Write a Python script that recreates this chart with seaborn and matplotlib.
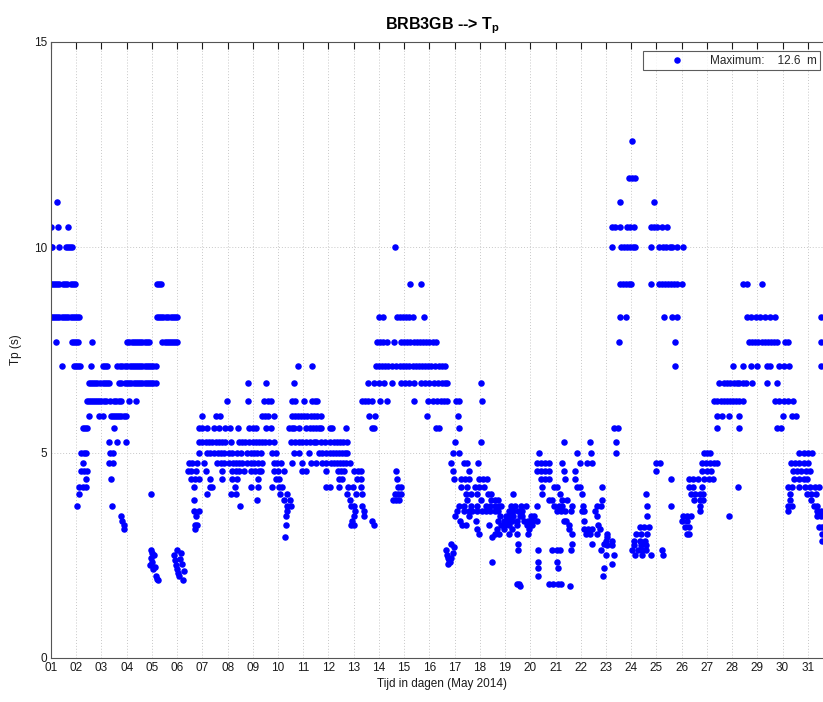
import pandas as pd
import seaborn as sns
import matplotlib.pyplot as plt

# Tp readings: (hours after 1 May 2014 00:00, Tp in s)
may01_06 = [
    (6, 11.1),
    (0, 10.5), (7, 10.5), (16, 10.5),
    (0, 10.0), (1, 10.0), (8, 10.0), (14, 10.0), (16, 10.0), (18, 10.0), (20, 10.0),
    (0, 9.1), (2, 9.1), (4, 9.1), (6, 9.1), (8, 9.1), (11, 9.1), (13, 9.1), (15, 9.1), (19, 9.1), (21, 9.1), (23, 9.1),
    (101, 9.1), (103, 9.1), (105, 9.1),
    (0, 8.3), (2, 8.3), (4, 8.3), (6, 8.3), (8, 8.3), (10, 8.3), (12, 8.3), (14, 8.3), (16, 8.3), (19, 8.3), (21, 8.3),
    (23, 8.3), (25, 8.3), (27, 8.3), (101, 8.3), (103, 8.3), (105, 8.3), (107, 8.3), (109, 8.3), (111, 8.3), (114, 8.3),
    (116, 8.3), (118, 8.3), (120, 8.3),
    (5, 7.7), (20, 7.7), (22, 7.7), (24, 7.7), (26, 7.7), (39, 7.7), (72, 7.7), (74, 7.7), (77, 7.7), (79, 7.7), (81, 7.7),
    (83, 7.7), (85, 7.7), (87, 7.7), (89, 7.7), (91, 7.7), (93, 7.7), (106, 7.7), (108, 7.7), (110, 7.7), (112, 7.7),
    (114, 7.7), (116, 7.7), (118, 7.7), (120, 7.7),
    (10, 7.1), (22, 7.1), (24, 7.1), (26, 7.1), (28, 7.1), (38, 7.1), (49, 7.1), (51, 7.1), (53, 7.1), (63, 7.1), (66, 7.1),
    (68, 7.1), (70, 7.1), (72, 7.1), (75, 7.1), (77, 7.1), (79, 7.1), (81, 7.1), (83, 7.1), (85, 7.1), (87, 7.1), (89, 7.1),
    (91, 7.1), (93, 7.1), (95, 7.1), (97, 7.1), (100, 7.1),
    (36, 6.7), (38, 6.7), (40, 6.7), (42, 6.7), (44, 6.7), (47, 6.7), (49, 6.7), (51, 6.7), (53, 6.7), (55, 6.7), (65, 6.7),
    (67, 6.7), (70, 6.7), (72, 6.7), (74, 6.7), (76, 6.7), (79, 6.7), (81, 6.7), (83, 6.7), (85, 6.7), (87, 6.7), (89, 6.7),
    (91, 6.7), (93, 6.7), (95, 6.7), (97, 6.7), (100, 6.7),
    (34, 6.25), (36, 6.25), (38, 6.25), (40, 6.25), (42, 6.25), (44, 6.25), (46, 6.25), (48, 6.25), (50, 6.25), (52, 6.25),
    (56, 6.25), (60, 6.25), (62, 6.25), (65, 6.25), (67, 6.25), (74, 6.25), (81, 6.25),
    (36, 5.9), (46, 5.9), (49, 5.9), (57, 5.9), (59, 5.9), (61, 5.9), (63, 5.9), (65, 5.9), (67, 5.9), (69, 5.9), (71, 5.9),
    (30, 5.6), (32, 5.6), (34, 5.6), (60, 5.6),
    (55, 5.26), (63, 5.26), (71, 5.26),
    (29, 5.0), (31, 5.0), (33, 5.0), (56, 5.0), (59, 5.0),
    (30, 4.76), (55, 4.76), (59, 4.76),
    (29, 4.55), (31, 4.55), (34, 4.55),
    (33, 4.35), (57, 4.35),
    (27, 4.17), (30, 4.17), (33, 4.17),
    (27, 4.0), (95, 4.0),
    (25, 3.7), (58, 3.7),
    (67, 3.45), (68, 3.33), (69, 3.23), (69, 3.13),
    (95, 2.63), (96, 2.56), (98, 2.5), (95, 2.44), (96, 2.33), (94, 2.27), (99, 2.22), (97, 2.17), (100, 2.0),
    (101, 1.92), (102, 1.9),
    (120, 2.63), (117, 2.5), (124, 2.56), (123, 2.4), (118, 2.38), (125, 2.3), (119, 2.27), (120, 2.17), (127, 2.13),
    (121, 2.08), (122, 2.0), (126, 1.9),
]

may06_13 = [
    (235, 7.1), (248, 7.1),
    (187, 6.7), (205, 6.7), (231, 6.7),
    (167, 6.25), (187, 6.25), (203, 6.25), (206, 6.25), (209, 6.25), (229, 6.25), (232, 6.25), (241, 6.25), (248, 6.25),
    (251, 6.25), (253, 6.25),
    (144, 5.9), (157, 5.9), (161, 5.9), (201, 5.9), (204, 5.9), (206, 5.9), (212, 5.9), (229, 5.9), (232, 5.9), (235, 5.9),
    (238, 5.9), (241, 5.9), (244, 5.9), (247, 5.9), (250, 5.9), (253, 5.9), (257, 5.9),
    (141, 5.6), (144, 5.6), (148, 5.6), (155, 5.6), (160, 5.6), (166, 5.6), (170, 5.6), (178, 5.6), (188, 5.6), (192, 5.6),
    (195, 5.6), (205, 5.6), (209, 5.6), (226, 5.6), (229, 5.6), (231, 5.6), (236, 5.6), (243, 5.6), (246, 5.6), (249, 5.6),
    (252, 5.6), (255, 5.6), (257, 5.6), (265, 5.6), (267, 5.6), (281, 5.6),
    (141, 5.26), (144, 5.26), (147, 5.26), (150, 5.26), (153, 5.26), (157, 5.26), (160, 5.26), (163, 5.26), (166, 5.26),
    (171, 5.26), (179, 5.26), (182, 5.26), (185, 5.26), (188, 5.26), (192, 5.26), (195, 5.26), (198, 5.26), (201, 5.26),
    (204, 5.26), (207, 5.26), (212, 5.26), (228, 5.26), (232, 5.26), (236, 5.26), (239, 5.26), (243, 5.26), (246, 5.26),
    (250, 5.26), (252, 5.26), (257, 5.26), (261, 5.26), (265, 5.26), (269, 5.26), (272, 5.26), (275, 5.26), (278, 5.26),
    (282, 5.26),
    (141, 5.0), (148, 5.0), (151, 5.0), (155, 5.0), (159, 5.0), (162, 5.0), (165, 5.0), (169, 5.0), (172, 5.0), (177, 5.0),
    (181, 5.0), (186, 5.0), (190, 5.0), (193, 5.0), (196, 5.0), (200, 5.0), (210, 5.0), (214, 5.0), (231, 5.0), (236, 5.0),
    (245, 5.0), (255, 5.0), (258, 5.0), (262, 5.0), (265, 5.0), (268, 5.0), (271, 5.0), (274, 5.0), (277, 5.0), (280, 5.0),
    (282, 5.0),
    (131, 4.76), (134, 4.76), (139, 4.76), (146, 4.76), (158, 4.76), (162, 4.76), (165, 4.76), (169, 4.76), (173, 4.76),
    (176, 4.76), (179, 4.76), (182, 4.76), (186, 4.76), (190, 4.76), (193, 4.76), (197, 4.76), (201, 4.76), (212, 4.76),
    (215, 4.76), (219, 4.76), (229, 4.76), (239, 4.76), (247, 4.76), (252, 4.76), (258, 4.76), (262, 4.76), (266, 4.76),
    (269, 4.76), (272, 4.76), (275, 4.76), (278, 4.76), (281, 4.76), (284, 4.76),
    (130, 4.55), (133, 4.55), (138, 4.55), (147, 4.55), (163, 4.55), (172, 4.55), (176, 4.55), (179, 4.55), (184, 4.55),
    (190, 4.55), (194, 4.55), (198, 4.55), (200, 4.55), (212, 4.55), (216, 4.55), (222, 4.55), (239, 4.55), (243, 4.55),
    (262, 4.55), (273, 4.55), (276, 4.55), (279, 4.55), (288, 4.55), (292, 4.55), (295, 4.55),
    (133, 4.35), (137, 4.35), (141, 4.35), (151, 4.35), (163, 4.35), (172, 4.35), (177, 4.35), (197, 4.35), (214, 4.35),
    (217, 4.35), (274, 4.35), (277, 4.35), (291, 4.35), (295, 4.35),
    (136, 4.17), (151, 4.17), (153, 4.17), (175, 4.17), (190, 4.17), (197, 4.17), (210, 4.17), (217, 4.17), (220, 4.17),
    (262, 4.17), (265, 4.17), (274, 4.17), (283, 4.17), (287, 4.17), (295, 4.17),
    (148, 4.0), (171, 4.0), (176, 4.0), (218, 4.0), (225, 4.0), (282, 4.0), (290, 4.0), (296, 4.0),
    (136, 3.85), (196, 3.85), (222, 3.85), (227, 3.85), (284, 3.85),
    (180, 3.7), (225, 3.7), (228, 3.7), (285, 3.7), (288, 3.7), (296, 3.7),
    (136, 3.57), (141, 3.57), (225, 3.57), (289, 3.57), (298, 3.57),
    (138, 3.45), (224, 3.45), (288, 3.45), (298, 3.45),
    (286, 3.33),
    (137, 3.23), (139, 3.23), (224, 3.23), (285, 3.23), (288, 3.23),
    (137, 3.13),
    (223, 2.94),
]

may13_18 = [
    (327, 10.0),
    (342, 9.1), (352, 9.1),
    (312, 8.3), (316, 8.3), (329, 8.3), (332, 8.3), (335, 8.3), (338, 8.3), (341, 8.3), (344, 8.3), (355, 8.3),
    (310, 7.7), (313, 7.7), (316, 7.7), (320, 7.7), (326, 7.7), (333, 7.7), (336, 7.7), (339, 7.7), (342, 7.7), (345, 7.7),
    (348, 7.7), (351, 7.7), (354, 7.7), (357, 7.7), (360, 7.7), (363, 7.7), (366, 7.7),
    (309, 7.1), (312, 7.1), (315, 7.1), (318, 7.1), (321, 7.1), (324, 7.1), (328, 7.1), (332, 7.1), (335, 7.1), (338, 7.1),
    (341, 7.1), (344, 7.1), (347, 7.1), (350, 7.1), (353, 7.1), (356, 7.1), (359, 7.1), (362, 7.1), (365, 7.1), (369, 7.1),
    (372, 7.1), (375, 7.1),
    (302, 6.7), (307, 6.7), (312, 6.7), (317, 6.7), (324, 6.7), (333, 6.7), (337, 6.7), (341, 6.7), (345, 6.7), (352, 6.7),
    (356, 6.7), (360, 6.7), (364, 6.7), (368, 6.7), (372, 6.7), (375, 6.7), (377, 6.7),
    (296, 6.25), (299, 6.25), (302, 6.25), (305, 6.25), (313, 6.25), (320, 6.25), (345, 6.25), (359, 6.25), (363, 6.25),
    (367, 6.25), (371, 6.25), (374, 6.25), (377, 6.25), (385, 6.25), (388, 6.25),
    (303, 5.9), (308, 5.9), (358, 5.9), (387, 5.9),
    (305, 5.6), (307, 5.6), (366, 5.6), (369, 5.6), (388, 5.6),
    (384, 5.26),
    (382, 5.0), (388, 5.0),
    (381, 4.76), (393, 4.76), (396, 4.76),
    (328, 4.55), (382, 4.55), (398, 4.55),
    (329, 4.35), (383, 4.35), (390, 4.35), (394, 4.35), (398, 4.35),
    (330, 4.17), (333, 4.17), (390, 4.17), (396, 4.17),
    (327, 4.0), (330, 4.0), (333, 4.0), (395, 4.0), (400, 4.0),
    (325, 3.85), (328, 3.85), (331, 3.85), (396, 3.85),
    (388, 3.7), (393, 3.7), (400, 3.7),
    (386, 3.57), (393, 3.57), (398, 3.57),
    (384, 3.45), (398, 3.45),
    (305, 3.33), (389, 3.33),
    (307, 3.23), (391, 3.23), (395, 3.23),
    (381, 2.78), (383, 2.7), (376, 2.63), (382, 2.56), (377, 2.5), (378, 2.44), (381, 2.44), (379, 2.38), (380, 2.33),
    (378, 2.3),
]

may18_24 = [
    (409, 6.7),
    (410, 6.25),
    (409, 5.26), (488, 5.26), (513, 5.26),
    (464, 5.0), (500, 5.0), (514, 5.0),
    (406, 4.76), (462, 4.76), (466, 4.76), (470, 4.76), (474, 4.76), (486, 4.76), (503, 4.76), (510, 4.76), (515, 4.76),
    (462, 4.55), (466, 4.55), (470, 4.55), (474, 4.55), (488, 4.55), (499, 4.55),
    (407, 4.35), (411, 4.35), (415, 4.35), (466, 4.35), (470, 4.35), (474, 4.35), (489, 4.35), (499, 4.35),
    (403, 4.17), (407, 4.17), (412, 4.17), (467, 4.17), (479, 4.17), (481, 4.17), (500, 4.17), (503, 4.17), (524, 4.17),
    (405, 4.0), (416, 4.0), (419, 4.0), (440, 4.0), (467, 4.0), (484, 4.0), (505, 4.0),
    (409, 3.85), (419, 3.85), (422, 3.85), (425, 3.85), (474, 3.85), (477, 3.85), (486, 3.85), (491, 3.85), (524, 3.85),
    (405, 3.7), (414, 3.7), (418, 3.7), (422, 3.7), (426, 3.7), (428, 3.7), (438, 3.7), (441, 3.7), (447, 3.7), (452, 3.7),
    (462, 3.7), (479, 3.7), (483, 3.7), (486, 3.7), (496, 3.7), (506, 3.7), (519, 3.7), (523, 3.7),
    (401, 3.57), (405, 3.57), (410, 3.57), (414, 3.57), (418, 3.57), (422, 3.57), (425, 3.57), (436, 3.57), (440, 3.57),
    (444, 3.57), (448, 3.57), (481, 3.57), (485, 3.57), (489, 3.57), (495, 3.57), (505, 3.57), (507, 3.57), (518, 3.57),
    (427, 3.45), (433, 3.45), (436, 3.45), (440, 3.45), (446, 3.45), (448, 3.45), (457, 3.45), (460, 3.45), (519, 3.45),
    (404, 3.33), (425, 3.33), (431, 3.33), (435, 3.33), (439, 3.33), (443, 3.33), (450, 3.33), (454, 3.33), (458, 3.33),
    (462, 3.33), (488, 3.33), (490, 3.33), (507, 3.33),
    (417, 3.23), (428, 3.23), (432, 3.23), (436, 3.23), (443, 3.23), (453, 3.23), (458, 3.23), (493, 3.23), (520, 3.23),
    (405, 3.13), (424, 3.13), (431, 3.13), (439, 3.13), (455, 3.13), (493, 3.13), (507, 3.13), (511, 3.13), (515, 3.13),
    (522, 3.13),
    (407, 3.03), (422, 3.03), (426, 3.03), (436, 3.03), (443, 3.03), (454, 3.03), (496, 3.03), (509, 3.03), (513, 3.03),
    (519, 3.03),
    (420, 2.94), (529, 2.94),
    (444, 2.78), (496, 2.78), (515, 2.78), (526, 2.78),
    (444, 2.63), (463, 2.63), (477, 2.63), (481, 2.63), (484, 2.63), (495, 2.63), (523, 2.63),
    (420, 2.33), (463, 2.33), (481, 2.33),
    (463, 2.2), (482, 2.2), (526, 2.2),
    (463, 2.0), (525, 2.0),
    (443, 1.8), (445, 1.8), (474, 1.8), (478, 1.8), (482, 1.8), (485, 1.8),
    (446, 1.75), (494, 1.75),
]

may24_31 = [
    (553, 12.6),
    (550, 11.7), (553, 11.7), (556, 11.7),
    (541, 11.1), (574, 11.1),
    (534, 10.5), (537, 10.5), (541, 10.5), (548, 10.5), (551, 10.5), (555, 10.5), (571, 10.5), (574, 10.5), (577, 10.5),
    (581, 10.5), (586, 10.5),
    (534, 10.0), (542, 10.0), (545, 10.0), (548, 10.0), (551, 10.0), (554, 10.0), (556, 10.0), (571, 10.0), (578, 10.0),
    (582, 10.0), (585, 10.0), (589, 10.0), (591, 10.0), (596, 10.0), (601, 10.0),
    (541, 9.1), (544, 9.1), (547, 9.1), (550, 9.1), (552, 9.1), (571, 9.1), (578, 9.1), (581, 9.1), (584, 9.1), (587, 9.1),
    (590, 9.1), (593, 9.1), (596, 9.1), (600, 9.1), (658, 9.1), (662, 9.1), (676, 9.1),
    (541, 8.3), (547, 8.3), (583, 8.3), (591, 8.3), (596, 8.3), (662, 8.3), (666, 8.3), (671, 8.3), (675, 8.3), (679, 8.3),
    (684, 8.3), (689, 8.3), (733, 8.3),
    (540, 7.7), (594, 7.7), (664, 7.7), (667, 7.7), (670, 7.7), (673, 7.7), (676, 7.7), (679, 7.7), (682, 7.7), (685, 7.7),
    (688, 7.7), (691, 7.7), (698, 7.7), (701, 7.7), (733, 7.7),
    (594, 7.1), (649, 7.1), (658, 7.1), (666, 7.1), (672, 7.1), (681, 7.1), (684, 7.1), (693, 7.1), (697, 7.1), (702, 7.1),
    (733, 7.1),
    (636, 6.7), (640, 6.7), (643, 6.7), (646, 6.7), (650, 6.7), (653, 6.7), (655, 6.7), (658, 6.7), (661, 6.7), (667, 6.7),
    (681, 6.7), (691, 6.7),
    (631, 6.25), (634, 6.25), (637, 6.25), (640, 6.25), (643, 6.25), (646, 6.25), (649, 6.25), (652, 6.25), (655, 6.25),
    (658, 6.25), (689, 6.25), (693, 6.25), (697, 6.25), (701, 6.25), (706, 6.25),
    (634, 5.9), (638, 5.9), (645, 5.9), (655, 5.9), (696, 5.9), (705, 5.9), (709, 5.9),
    (536, 5.6), (539, 5.6), (634, 5.6), (655, 5.6), (691, 5.6), (695, 5.6),
    (538, 5.26),
    (538, 5.0), (621, 5.0), (624, 5.0), (627, 5.0), (712, 5.0), (716, 5.0), (720, 5.0), (724, 5.0),
    (576, 4.76), (579, 4.76), (619, 4.76), (623, 4.76), (627, 4.76), (631, 4.76), (634, 4.76), (704, 4.76), (708, 4.76),
    (712, 4.76), (716, 4.76), (720, 4.76),
    (576, 4.55), (619, 4.55), (624, 4.55), (628, 4.55), (706, 4.55), (710, 4.55), (714, 4.55), (718, 4.55), (722, 4.55),
    (590, 4.35), (607, 4.35), (611, 4.35), (616, 4.35), (621, 4.35), (626, 4.35), (630, 4.35), (707, 4.35), (712, 4.35),
    (716, 4.35), (719, 4.35),
    (607, 4.17), (611, 4.17), (619, 4.17), (654, 4.17), (701, 4.17), (705, 4.17), (712, 4.17), (717, 4.17), (722, 4.17),
    (727, 4.17), (731, 4.17),
    (566, 4.0), (609, 4.0), (613, 4.0), (617, 4.0), (620, 4.0), (703, 4.0), (719, 4.0), (723, 4.0), (728, 4.0),
    (612, 3.85), (617, 3.85), (620, 3.85), (703, 3.85), (723, 3.85),
    (567, 3.7), (590, 3.7), (617, 3.7), (701, 3.7), (705, 3.7), (726, 3.7), (729, 3.7),
    (617, 3.57), (701, 3.57), (729, 3.57), (733, 3.57),
    (567, 3.45), (601, 3.45), (605, 3.45), (609, 3.45), (645, 3.45), (729, 3.45), (733, 3.45),
    (600, 3.33), (605, 3.33),
    (560, 3.2), (564, 3.2), (569, 3.2), (603, 3.2), (607, 3.2), (731, 3.2), (734, 3.2),
    (529, 3.03), (557, 3.03), (561, 3.03), (567, 3.03), (605, 3.03), (607, 3.03), (734, 3.03),
    (528, 2.86), (534, 2.86), (555, 2.86), (560, 2.86), (565, 2.86), (734, 2.86),
    (529, 2.75), (534, 2.75), (555, 2.75), (561, 2.75), (566, 2.75),
    (553, 2.63), (558, 2.63), (562, 2.63), (566, 2.63), (581, 2.63),
    (528, 2.5), (536, 2.5), (556, 2.5), (562, 2.5), (571, 2.5), (582, 2.5),
    (534, 2.3),
]

day_ticks = list(range(1, 32))
day_labels = ['%02d' % d for d in day_ticks]
tp_ticks = [0, 5, 10, 15]

# one table of all readings, time as day of month
rows = may01_06 + may06_13 + may13_18 + may18_24 + may24_31
df = pd.DataFrame(rows, columns=['hour', 'tp'])
df['day'] = 1 + df['hour'] / 24

sns.set_style('white')
plt.rcParams['font.family'] = ['Liberation Sans', 'DejaVu Sans']
plt.rcParams['mathtext.fontset'] = 'custom'
plt.rcParams['mathtext.rm'] = 'Liberation Sans'
plt.rcParams['mathtext.bf'] = 'Liberation Sans:bold'

fig = plt.figure(figsize=(8.23, 7.02), dpi=100)
# axes runs past the right border, like the cropped original
ax = fig.add_axes([51 / 823, 44 / 702, 782 / 823, 616 / 702])

sns.scatterplot(data=df, x='day', y='tp', ax=ax, color='#0000ff', s=22, linewidth=0,
                label='Maximum:    %.1f  m' % df['tp'].max())

ax.set_xlim(1, 32)
ax.set_ylim(0, 15)
ax.set_xticks(day_ticks, day_labels)
ax.set_yticks(tp_ticks)
ax.grid(True, color='#c8c8c8', linestyle=(0, (1, 2)), linewidth=0.7)
ax.tick_params(direction='in', length=5, width=0.8, top=True, right=True,
               labelsize=8.5, colors='#1a1a1a', pad=3)
for sp in ax.spines.values():
    sp.set_color('#555555')
    sp.set_linewidth(0.8)

ax.set_xlabel('Tijd in dagen (May 2014)', fontsize=8.5, color='#1a1a1a', labelpad=3)
ax.set_ylabel('Tp (s)', fontsize=8.5, color='#1a1a1a', labelpad=8)
ax.set_title(r'BRB3GB --> $\mathbf{T_p}$', fontsize=11.5, fontweight='bold',
             color='black', pad=9)

leg = ax.legend(loc='upper right', bbox_to_anchor=(820 / 823, 1 - 51 / 702),
                bbox_transform=fig.transFigure, borderaxespad=0, fontsize=8.5,
                frameon=True, fancybox=False, edgecolor='#333333', handlelength=5.0,
                handletextpad=0.3, borderpad=0.3, scatterpoints=1)
leg.get_frame().set_linewidth(0.8)

fig.savefig('out.png', dpi=100)
